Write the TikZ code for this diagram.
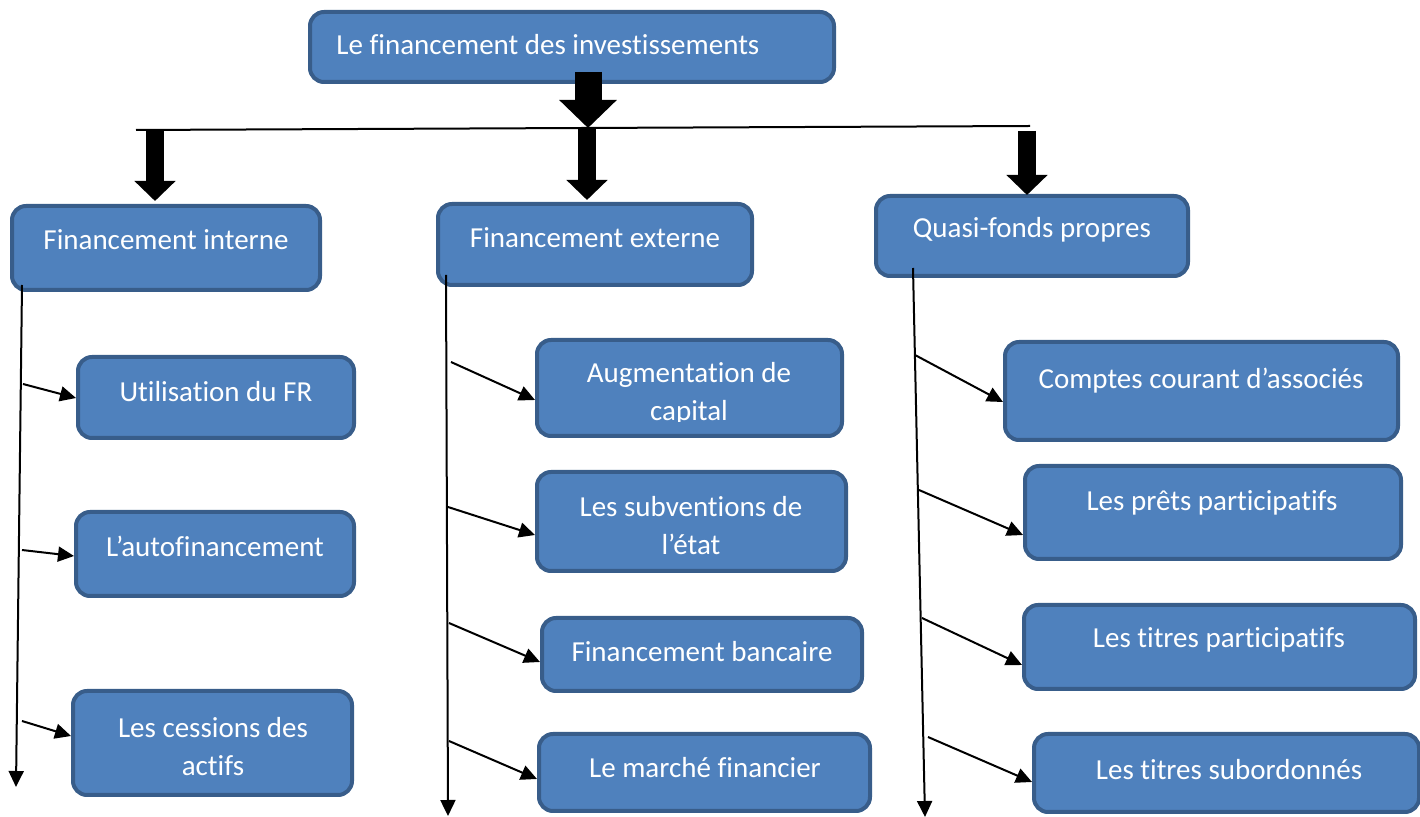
\documentclass[tikz,border=0pt]{standalone}
\usepackage{fontspec}
\setmainfont[Ligatures={NoCommon,NoContextual}]{Carlito}
\usetikzlibrary{arrows.meta,calc}
\definecolor{boxfill}{HTML}{4F81BD}
\definecolor{boxline}{HTML}{385D8A}
\newcommand{\mkbox}[5]{%
  \node[box, minimum width={(#4-#2-4)*0.5pt}, minimum height={(#5-#3-4)*0.5pt}]
    (#1) at ({(#2+#4)/2},{(#3+#5)/2}) {};}
\begin{document}
\begin{tikzpicture}[x=0.5pt,y=-0.5pt,
  box/.style={draw=boxline, fill=boxfill, line width=2pt, rounded corners=7pt, inner sep=0pt},
  lbl/.style={text=white, font=\fontsize{14.5}{19}\selectfont, align=center, inner sep=0pt},
  bigarrow/.style={line width=13.5pt, -{Triangle[length=14pt,width=28pt]}},
  medarrow/.style={line width=9pt, -{Triangle[length=10pt,width=20pt]}},
  thinarrow/.style={line width=1pt, -{Triangle[length=8pt,width=7.5pt]}}]
\useasboundingbox (0,0) rectangle (1420,817);

% boxes
\mkbox{top}{308}{10}{836}{84}
\mkbox{fi}{10}{204}{322}{292}
\mkbox{fe}{436}{202}{754}{287}
\mkbox{qfp}{874}{194}{1190}{278}
\mkbox{ufr}{76}{355}{356}{440}
\mkbox{auto}{74}{510}{356}{598}
\mkbox{ces}{71}{689}{354}{797}
\mkbox{aug}{535}{338}{844}{438}
\mkbox{sub}{535}{470}{848}{573}
\mkbox{fb}{540}{616}{864}{693}
\mkbox{lmf}{537}{732}{872}{813}
\mkbox{cca}{1003}{340}{1400}{442}
\mkbox{lpp}{1023}{464}{1403}{561}
\mkbox{ltp}{1022}{603}{1417}{691}
\mkbox{lts}{1032}{732}{1421}{814}

% texts
\node[lbl, anchor=west] (top-t) at (336,45) {Le financement des investissements};
\node[lbl] (fi-t) at (166,240) {Financement interne};
\node[lbl] (fe-t) at (595,238) {Financement externe};
\node[lbl] (qfp-t) at (1032,230) {Quasi-fonds propres};
\node[lbl] (ufr-t) at (216,392) {Utilisation du FR};
\node[lbl] (auto-t) at (215,546) {L’autofinancement};
\node[lbl] (ces-t) at (213,747) {Les cessions des\\actifs};
\begin{scope}
  \clip (535,338) rectangle (844,422);
  \node[lbl] (aug-t) at (689,394) {Augmentation de\\capital};
\end{scope}
\node[lbl] (sub-t) at (691,526) {Les subventions de\\l’état};
\node[lbl] (fb-t) at (702,652) {Financement bancaire};
\node[lbl] (lmf-t) at (705,768) {Le marché financier};
\node[lbl] (cca-t) at (1201,381) {Comptes courant d’associés};
\node[lbl] (lpp-t) at (1212,503) {Les prêts participatifs};
\node[lbl] (ltp-t) at (1219,640) {Les titres participatifs};
\node[lbl] (lts-t) at (1229,770) {Les titres subordonnés};

% horizontal distribution line
\coordinate (hl) at (136,130);
\coordinate (hr) at (1030,126);
\draw[line width=1pt] (hl) -- (hr);

% block arrows
\coordinate (a0s) at (588,72);
\coordinate (a0e) at (588,128);
\draw[bigarrow] (a0s) -- (a0e);
\coordinate (a1s) at (155,131);
\draw[medarrow] (a1s) -- (155,201);
\coordinate (a2s) at (587,128);
\draw[medarrow] (a2s) -- (587,200);
\coordinate (a3s) at (1027,131);
\draw[medarrow] (a3s) -- (1027,195);

% trunks
\coordinate (t1s) at (22,285);
\coordinate (t1e) at (16,787);
\draw[thinarrow] (t1s) -- (t1e);
\coordinate (t2s) at (446,275);
\coordinate (t2e) at (448,816);
\draw[thinarrow] (t2s) -- (t2e);
\coordinate (t3s) at (913,268);
\coordinate (t3e) at (925,817);
\draw[thinarrow] (t3s) -- (t3e);

% branches
\draw[thinarrow] (23,384) -- (ufr.west |- 0,398);
\draw[thinarrow] (22,550) -- (auto.west |- 0,556);
\draw[thinarrow] (22,721) -- (ces.west |- 0,736);

\draw[thinarrow] (451,362) -- (aug.west |- 0,400);
\draw[thinarrow] (448,507) -- (sub.west |- 0,535);
\draw[thinarrow] (449,623) -- (fb.west |- 0,662);
\draw[thinarrow] (449,741) -- (lmf.west |- 0,779);

\draw[thinarrow] (915,355) -- (cca.west |- 0,402);
\draw[thinarrow] (919,490) -- (lpp.west |- 0,535);
\draw[thinarrow] (922,618) -- (ltp.west |- 0,665);
\draw[thinarrow] (928,737) -- (lts.west |- 0,782);
\end{tikzpicture}
\end{document}
